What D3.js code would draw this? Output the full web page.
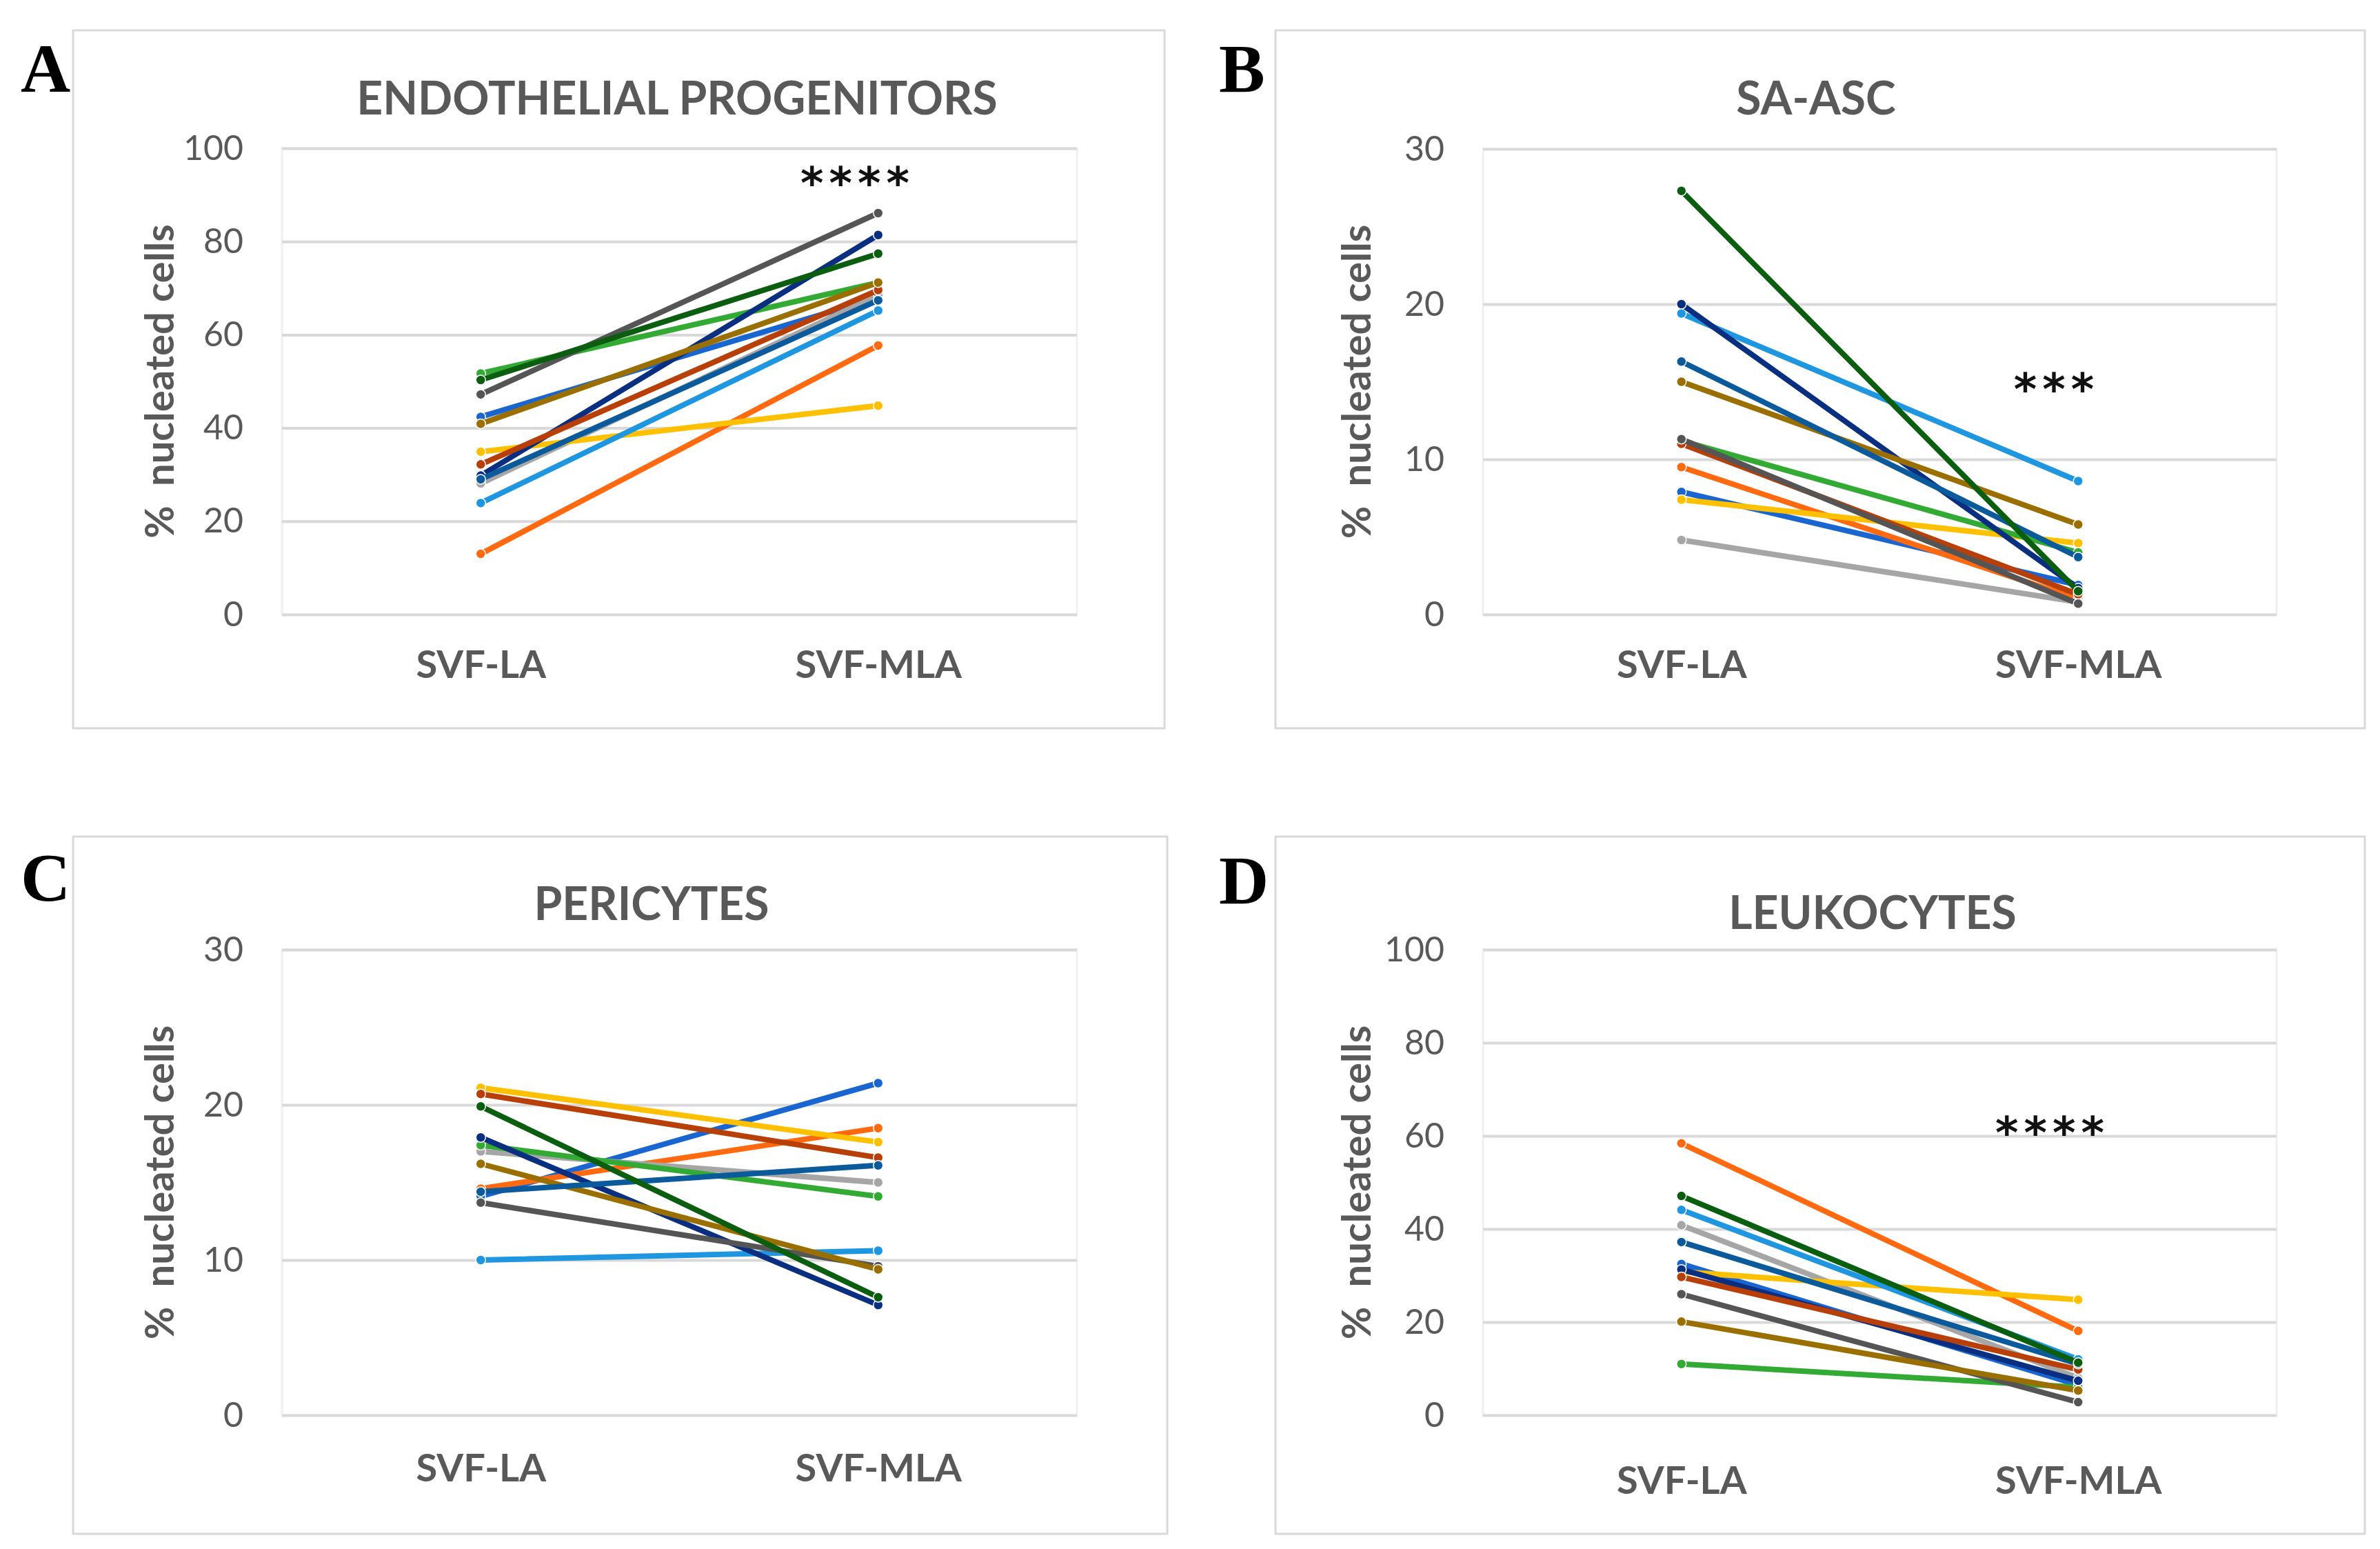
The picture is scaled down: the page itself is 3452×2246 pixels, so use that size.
<!DOCTYPE html>
<html>
<head>
<meta charset="utf-8">
<script src="https://d3js.org/d3.v7.min.js"></script>
<style>
  body { margin: 0; background: #fff; }
  text { font-family: Lato, "Open Sans", sans-serif; }
</style>
</head>
<body>
<script>
// data: 12 donors, SVF-LA vs SVF-MLA
const categories = ["SVF-LA", "SVF-MLA"];
const donorColors = ["#1a66d0", "#ff6a10", "#a6a6a6", "#ffc000", "#1e96e0", "#33aa33",
                     "#0a2f80", "#b83f08", "#555555", "#9a6f00", "#0b5a9c", "#0b5e10"];

const endothelialLA  = [42.4, 13.0, 28.1, 34.9, 23.9, 51.7, 29.8, 32.2, 47.2, 40.9, 29.0, 50.3];
const endothelialMLA = [68.0, 57.7, 68.5, 44.8, 65.2, 71.2, 81.4, 69.6, 86.1, 71.2, 67.4, 77.4];

const saascLA  = [7.9, 9.5, 4.8, 7.4, 19.4, 11.2, 20.0, 11.0, 11.3, 15.0, 16.3, 27.3];
const saascMLA = [1.9, 1.0, 0.8, 4.6, 8.6, 4.0, 1.7, 1.3, 0.7, 5.8, 3.7, 1.5];

const pericytesLA  = [14.1, 14.6, 17.0, 21.1, 10.0, 17.4, 17.9, 20.7, 13.7, 16.2, 14.4, 19.9];
const pericytesMLA = [21.4, 18.5, 15.0, 17.6, 10.6, 14.1, 7.1, 16.6, 9.6, 9.4, 16.1, 7.6];

const leukocytesLA  = [32.5, 58.4, 40.8, 30.8, 44.1, 11.0, 31.3, 29.7, 26.0, 20.1, 37.2, 47.1];
const leukocytesMLA = [6.5, 18.1, 8.0, 24.8, 12.0, 6.0, 7.4, 9.8, 2.8, 5.3, 11.0, 11.3];

const yTicks100 = [0, 20, 40, 60, 80, 100];
const yTicks30 = [0, 10, 20, 30];

const W = 3452, H = 2246;
const textGray = "#595959";

const panels = [
  { letter: "A", letterPos: [30, 133], title: "ENDOTHELIAL PROGENITORS", titlePos: [982, 166],
    box: [106, 44, 1689, 1056], plot: [409, 215, 1562, 891], yMax: 100, ticks: yTicks100,
    la: endothelialLA, mla: endothelialMLA, catPad: 52, yTitleX: 232,
    stars: "****", starsPos: [1244, 288] },
  { letter: "B", letterPos: [1768, 133], title: "SA-ASC", titlePos: [2634, 166],
    box: [1850, 44, 3430, 1056], plot: [2151, 216, 3302, 891], yMax: 30, ticks: yTicks30,
    la: saascLA, mla: saascMLA, catPad: 52, yTitleX: 1968,
    stars: "***", starsPos: [2983, 587] },
  { letter: "C", letterPos: [30, 1306], title: "PERICYTES", titlePos: [945, 1334],
    box: [106, 1213, 1693, 2224], plot: [409, 1377, 1562, 2052], yMax: 30, ticks: yTicks30,
    la: pericytesLA, mla: pericytesMLA, catPad: 56, yTitleX: 232 },
  { letter: "D", letterPos: [1768, 1310], title: "LEUKOCYTES", titlePos: [2716, 1347],
    box: [1850, 1213, 3430, 2224], plot: [2151, 1377, 3302, 2052], yMax: 100, ticks: yTicks100,
    la: leukocytesLA, mla: leukocytesMLA, catPad: 74, yTitleX: 1968,
    stars: "****", starsPos: [2977, 1665] }
];

const svg = d3.select("body").append("svg")
    .attr("width", W)
    .attr("height", H)
    .attr("viewBox", [0, 0, W, H]);

svg.append("rect").attr("width", W).attr("height", H).attr("fill", "#fff");

panels.forEach(p => {
  const [bx0, by0, bx1, by1] = p.box;
  const [px0, py0, px1, py1] = p.plot;

  svg.append("rect")
      .attr("x", bx0).attr("y", by0)
      .attr("width", bx1 - bx0).attr("height", by1 - by0)
      .attr("fill", "#fff")
      .attr("stroke", "#d9d9d9")
      .attr("stroke-width", 3);

  const x = d3.scalePoint().domain(categories).range([px0, px1]).padding(0.5);
  const y = d3.scaleLinear().domain([0, p.yMax]).range([py1, py0]);

  // plot area frame
  svg.append("rect")
      .attr("x", px0).attr("y", py0)
      .attr("width", px1 - px0).attr("height", py1 - py0)
      .attr("fill", "none")
      .attr("stroke", "#f0f0f0")
      .attr("stroke-width", 3);

  // y axis with gridlines
  const yAxis = svg.append("g")
      .attr("transform", `translate(${px0},0)`)
      .call(d3.axisLeft(y).tickValues(p.ticks).tickSize(-(px1 - px0)).tickPadding(56));
  yAxis.select(".domain").remove();
  yAxis.selectAll(".tick line").attr("stroke", "#d9d9d9").attr("stroke-width", 4);
  yAxis.selectAll(".tick text")
      .attr("fill", textGray)
      .style("font-size", "50px")
      .style("font-family", "Lato, sans-serif");

  // category labels
  const xAxis = svg.append("g")
      .attr("transform", `translate(0,${py1})`)
      .call(d3.axisBottom(x).tickSize(0).tickPadding(p.catPad));
  xAxis.select(".domain").remove();
  xAxis.selectAll(".tick text")
      .attr("fill", textGray)
      .style("font-size", "56px")
      .style("font-weight", "bold")
      .style("font-family", "Lato, sans-serif");

  // paired lines
  const pairs = p.la.map((v, i) => ({ la: v, mla: p.mla[i], color: donorColors[i] }));
  const g = svg.append("g");
  pairs.forEach(d => {
    g.append("line")
        .attr("x1", x(categories[0])).attr("y1", y(d.la))
        .attr("x2", x(categories[1])).attr("y2", y(d.mla))
        .attr("stroke", d.color)
        .attr("stroke-width", 8)
        .attr("stroke-linecap", "round");
    [[categories[0], d.la], [categories[1], d.mla]].forEach(([c, v]) => {
      g.append("circle")
          .attr("cx", x(c)).attr("cy", y(v))
          .attr("r", 7)
          .attr("fill", d.color)
          .attr("stroke", "#fff")
          .attr("stroke-width", 1.5);
    });
  });

  // titles
  svg.append("text")
      .attr("x", p.titlePos[0]).attr("y", p.titlePos[1])
      .attr("text-anchor", "middle")
      .attr("fill", textGray)
      .style("font-size", "66px")
      .style("font-weight", "bold")
      .text(p.title);

  svg.append("text")
      .attr("transform", `translate(${p.yTitleX},${(py0 + py1) / 2}) rotate(-90)`)
      .attr("text-anchor", "middle")
      .attr("dy", "0.35em")
      .attr("fill", textGray)
      .style("font-size", "58px")
      .style("font-weight", "bold")
      .style("white-space", "pre")
      .text("%  nucleated cells");

  svg.append("text")
      .attr("x", p.letterPos[0]).attr("y", p.letterPos[1])
      .attr("fill", "#000")
      .style("font-family", "'Liberation Serif', 'DejaVu Serif', serif")
      .style("font-size", "100px")
      .style("font-weight", "bold")
      .text(p.letter);

  if (p.stars) {
    svg.append("text")
        .attr("x", p.starsPos[0]).attr("y", p.starsPos[1])
        .attr("text-anchor", "middle")
        .attr("fill", "#111")
        .style("font-family", "'DejaVu Sans', sans-serif")
        .style("font-size", "64px")
        .style("font-weight", "bold")
        .style("letter-spacing", "8px")
        .text(p.stars);
  }
});
</script>
</body>
</html>
